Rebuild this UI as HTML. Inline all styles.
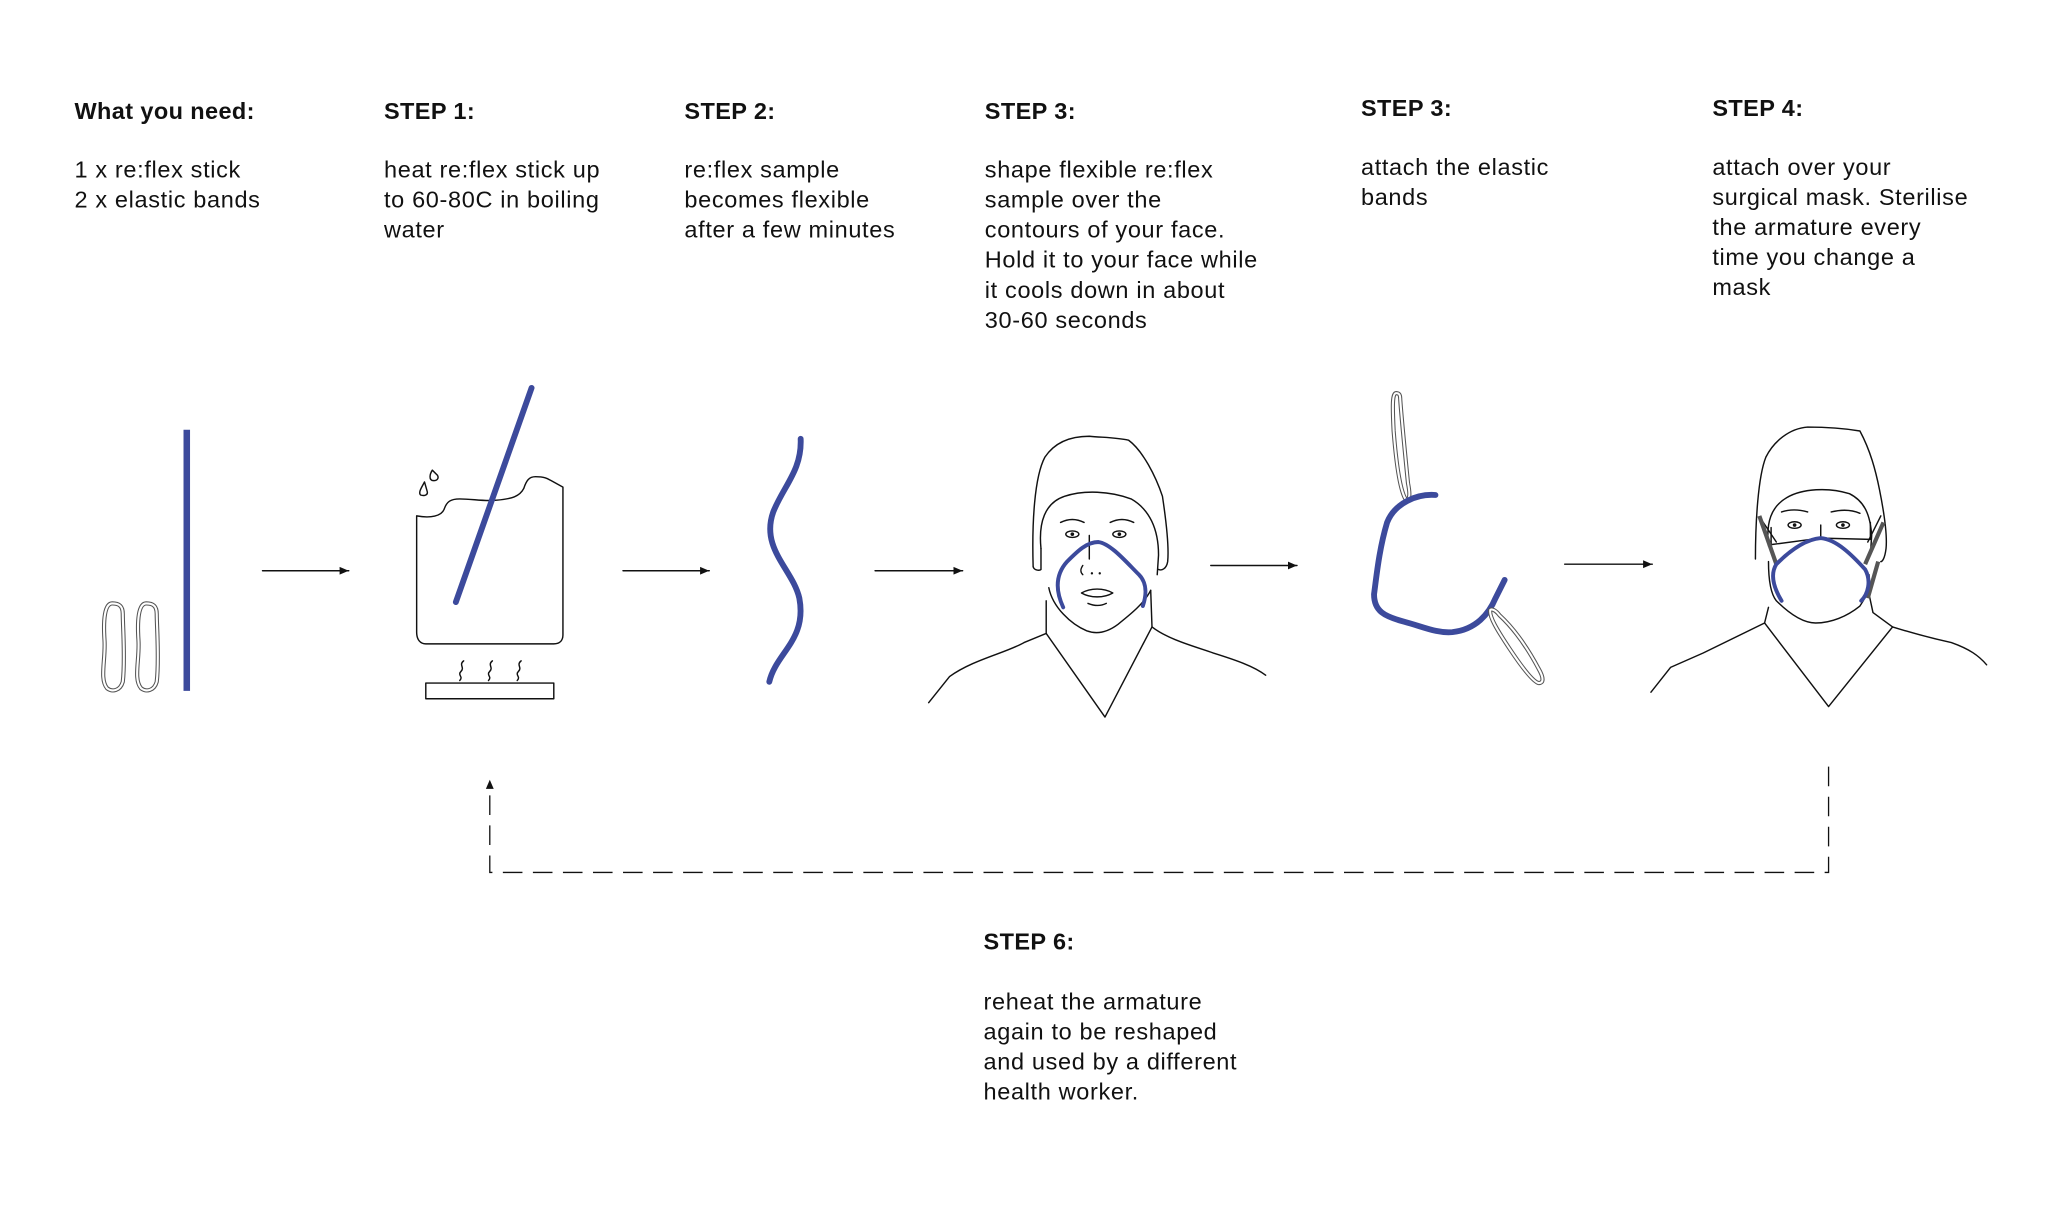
<!DOCTYPE html>
<html><head><meta charset="utf-8"><style>
html,body{margin:0;padding:0;background:#fff;}
svg{display:block;}
text{font-family:"Liberation Sans",sans-serif;font-size:18px;letter-spacing:0.5px;fill:#111;}
.h{font-weight:bold;letter-spacing:0.3px;}
.k{fill:none;stroke:#111;stroke-width:1.1;stroke-linejoin:round;stroke-linecap:round;}
.b{fill:none;stroke:#3c4a9c;stroke-linecap:round;stroke-linejoin:round;}
.band{fill:none;stroke:#555;stroke-width:3.2;}
.bandi{fill:none;stroke:#fff;stroke-width:1.6;}
</style></head><body>
<svg width="2048" height="1229" viewBox="0 0 1568 941" preserveAspectRatio="none">
<defs><marker id="ah" markerWidth="8" markerHeight="8" refX="7" refY="4" orient="auto" markerUnits="userSpaceOnUse"><path d="M0,1 L7,4 L0,7 Z" fill="#111"/></marker></defs>

<text class="h" x="57" y="91">What you need:</text>
<text x="57" y="136">1 x re:flex stick</text>
<text x="57" y="159">2 x elastic bands</text>

<text class="h" x="294" y="91">STEP 1:</text>
<text x="294" y="136">heat re:flex stick up</text>
<text x="294" y="159">to 60-80C in boiling</text>
<text x="294" y="182">water</text>

<text class="h" x="524" y="91">STEP 2:</text>
<text x="524" y="136">re:flex sample</text>
<text x="524" y="159">becomes flexible</text>
<text x="524" y="182">after a few minutes</text>

<text class="h" x="754" y="91">STEP 3:</text>
<text x="754" y="136">shape flexible re:flex</text>
<text x="754" y="159">sample over the</text>
<text x="754" y="182">contours of your face.</text>
<text x="754" y="205">Hold it to your face while</text>
<text x="754" y="228">it cools down in about</text>
<text x="754" y="251">30-60 seconds</text>

<text class="h" x="1042" y="89">STEP 3:</text>
<text x="1042" y="134">attach the elastic</text>
<text x="1042" y="157">bands</text>

<text class="h" x="1311" y="89">STEP 4:</text>
<text x="1311" y="134">attach over your</text>
<text x="1311" y="157">surgical mask. Sterilise</text>
<text x="1311" y="180">the armature every</text>
<text x="1311" y="203">time you change a</text>
<text x="1311" y="226">mask</text>

<text class="h" x="753" y="727">STEP 6:</text>
<text x="753" y="773">reheat the armature</text>
<text x="753" y="796">again to be reshaped</text>
<text x="753" y="819">and used by a different</text>
<text x="753" y="842">health worker.</text>

<path class="band" d="M86,462 C80,462 79,475 80,490 C81,505 76,520 82,527 C86,530 92,529 94,522 C96,505 94,480 94,470 C94,463 90,462 86,462 Z"/>
<path class="bandi" d="M86,462 C80,462 79,475 80,490 C81,505 76,520 82,527 C86,530 92,529 94,522 C96,505 94,480 94,470 C94,463 90,462 86,462 Z"/>
<path class="band" d="M112,462 C106,462 105,475 106,490 C107,505 102,520 108,527 C112,530 118,529 120,522 C122,505 120,480 120,470 C120,463 116,462 112,462 Z"/>
<path class="bandi" d="M112,462 C106,462 105,475 106,490 C107,505 102,520 108,527 C112,530 118,529 120,522 C122,505 120,480 120,470 C120,463 116,462 112,462 Z"/>
<line x1="143" y1="329" x2="143" y2="529" stroke="#3c4a9c" stroke-width="5"/>

<line class="k" x1="201" y1="437" x2="267" y2="437" marker-end="url(#ah)"/>
<line class="k" x1="477" y1="437" x2="543" y2="437" marker-end="url(#ah)"/>
<line class="k" x1="670" y1="437" x2="737" y2="437" marker-end="url(#ah)"/>
<line class="k" x1="927" y1="433" x2="993" y2="433" marker-end="url(#ah)"/>
<line class="k" x1="1198" y1="432" x2="1265" y2="432" marker-end="url(#ah)"/>

<path class="k" d="M319,395 C330,397 338,395 340,390 C342,384 345,382 352,382 C362,382 370,384 380,383 C392,382 398,380 401,374 C403,368 405,365 410,365 C418,365 420,367 422,368 L431,373 L431,486 C431,491 428,493 424,493 L326,493 C322,493 319,490 319,484 Z"/>
<path class="k" d="M325,369 C323,373 320,377 322,379 C325,380 328,379 327,376 Z"/>
<path class="k" d="M331,360 C329,363 328,368 332,368 C335,368 336,366 335,364 Z"/>
<line class="b" x1="407" y1="297" x2="349" y2="461" stroke-width="4.5"/>
<path class="k" stroke-width="2" d="M355,506 C351,509 356,511 353,514 C350,517 355,518 352,521"/>
<path class="k" stroke-width="2" d="M377,506 C373,509 378,511 375,514 C372,517 377,518 374,521"/>
<path class="k" stroke-width="2" d="M399,506 C395,509 400,511 397,514 C394,517 399,518 396,521"/>
<rect class="k" x="326" y="523" width="98" height="12"/>

<path class="b" stroke-width="4.5" d="M613,336 C614,360 600,372 592,392 C582,420 607,436 612,458 C618,490 594,500 589,522"/>

<g>
<path class="k" d="M791,434 C790,400 792,365 800,350 C808,338 820,334 834,334 C845,335 855,335 864,337 C875,345 885,365 890,380 C893,400 895,420 894,430 C893,436 889,437 887,436"/>
<path class="k" d="M791,434 C792,437 796,437 797,436 L797,420"/>
<path class="k" d="M797,420 C795,400 800,385 815,380 C830,375 850,376 866,382 C880,390 887,405 887,425 L886,440"/>
<path class="k" d="M803,450 C806,465 820,478 832,483 C840,486 848,484 856,478 C866,470 876,462 881,452"/>
<path class="k" d="M801,460 L801,485 L784,492 C770,500 745,505 727,518 L711,538"/>
<path class="k" d="M881,452 L882,480 C895,490 915,495 929,500 C945,505 960,510 969,517"/>
<path class="k" d="M801,485 L846,549 L882,480"/>
<path class="k" d="M812,400 C818,397 824,397 830,400 M850,400 C856,397 862,397 868,400"/>
<ellipse class="k" cx="821" cy="409" rx="5" ry="2.5"/><circle cx="821" cy="409" r="1.4" fill="#111"/>
<ellipse class="k" cx="857" cy="409" rx="5" ry="2.5"/><circle cx="857" cy="409" r="1.4" fill="#111"/>
<path class="k" d="M834,410 L834,428"/>
<path class="k" d="M829,433 C827,436 827,438 829,440"/><circle cx="836" cy="439" r="0.9" fill="#111"/><circle cx="842" cy="439" r="0.9" fill="#111"/>
<path class="k" d="M828,454 C835,450 845,450 852,454 C845,458 835,458 828,454 Z"/>
<path class="k" d="M833,462 C838,464 843,464 847,462"/>
<path class="b" stroke-width="3" d="M814,465 C808,452 808,440 817,430 C825,422 832,415 841,415 C850,416 862,430 872,440 C878,446 878,455 875,464"/>
</g>

<path class="band" d="M1069,301 C1066,301 1066,310 1067,330 C1069,355 1072,375 1076,382 C1079,383 1080,380 1078,370 C1076,350 1073,320 1072,305 C1072,302 1071,301 1069,301 Z"/>
<path class="bandi" d="M1069,301 C1066,301 1066,310 1067,330 C1069,355 1072,375 1076,382 C1079,383 1080,380 1078,370 C1076,350 1073,320 1072,305 C1072,302 1071,301 1069,301 Z"/>
<path class="b" stroke-width="4.5" d="M1099,379 C1085,378 1068,385 1062,400 C1056,420 1054,440 1052,455 C1052,468 1060,472 1075,476 C1090,480 1100,485 1112,484 C1130,482 1140,470 1145,458 C1149,450 1151,446 1152,444"/>
<path class="band" d="M1141,467 C1140,472 1146,482 1156,497 C1166,512 1174,522 1178,523 C1182,523 1182,519 1178,512 C1170,497 1160,482 1148,471 C1145,467 1142,466 1141,467 Z"/>
<path class="bandi" d="M1141,467 C1140,472 1146,482 1156,497 C1166,512 1174,522 1178,523 C1182,523 1182,519 1178,512 C1170,497 1160,482 1148,471 C1145,467 1142,466 1141,467 Z"/>

<g>
<path class="k" d="M1344,428 C1344,400 1346,365 1352,350 C1358,338 1370,328 1384,327 C1400,327 1412,328 1424,330 C1432,345 1436,360 1439,375 C1443,395 1445,410 1444,420 C1443,428 1441,430 1440,430"/>
<path class="k" d="M1354,418 C1352,400 1356,388 1368,381 C1380,374 1400,373 1416,378 C1428,384 1432,395 1433,410 L1432,425"/>
<path class="k" d="M1356,404 L1356,417 L1394,412 L1432,413 L1432,400"/>
<path class="k" d="M1348,397 L1360,415 M1440,395 L1430,415"/>
<path class="k" d="M1354,430 C1354,445 1356,455 1360,460 C1370,470 1380,477 1390,477 C1402,477 1414,472 1424,464 C1430,455 1432,450 1431,440"/>
<path class="k" d="M1354,465 L1351,477 L1304,500 L1279,511 L1264,530"/>
<path class="k" d="M1431,455 L1434,469 L1449,480 C1465,485 1485,490 1494,492 C1508,497 1515,502 1521,509"/>
<path class="k" d="M1351,477 L1400,541 L1449,480"/>
<path class="k" d="M1364,392 C1370,390 1377,390 1384,392 M1402,392 C1410,390 1417,390 1424,393"/>
<ellipse class="k" cx="1374" cy="402" rx="5" ry="2.5"/><circle cx="1374" cy="402" r="1.4" fill="#111"/>
<ellipse class="k" cx="1411" cy="402" rx="5" ry="2.5"/><circle cx="1411" cy="402" r="1.4" fill="#111"/>
<path class="k" d="M1394,402 L1394,412"/>
<path class="band" stroke-width="2.4" d="M1347,395 L1360,432 M1442,400 L1428,432 M1438,430 L1430,458"/>
<path class="b" stroke-width="3" d="M1364,460 C1358,450 1355,440 1360,432 C1370,422 1382,413 1394,412 C1406,413 1418,425 1428,436 C1433,445 1430,455 1425,460"/>
</g>

<path d="M1400,587 L1400,668 L375,668 L375,600" fill="none" stroke="#111" stroke-width="1" stroke-dasharray="15,8"/>
<path d="M372,604 L375,597 L378,604 Z" fill="#111"/>
</svg>
</body></html>
